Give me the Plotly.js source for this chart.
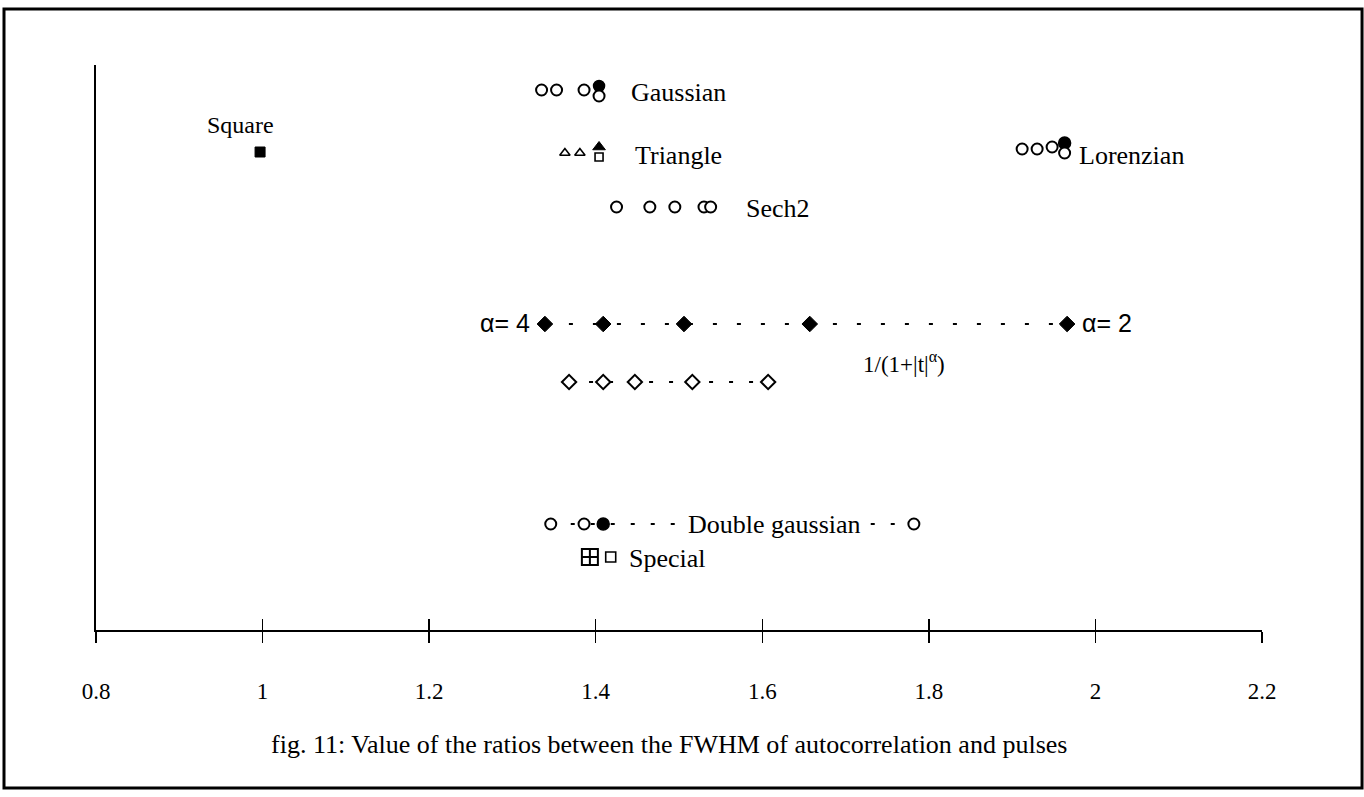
<!DOCTYPE html>
<html>
<head>
<meta charset="utf-8">
<script src="https://cdn.plot.ly/plotly-3.0.1.min.js"></script>
<style>html,body{margin:0;padding:0;background:#fff;}#chart{width:1364px;height:797px;}</style>
</head>
<body>
<div id="chart"></div>
<script>
// ---- data (ratio values) ----
var tickVals = [0.8, 1, 1.2, 1.4, 1.6, 1.8, 2, 2.2];
var tickText = ["0.8", "1", "1.2", "1.4", "1.6", "1.8", "2", "2.2"];

var gaussOpenX = [1.335, 1.353, 1.386, 1.404];
var gaussOpenY = [54.0, 54.0, 54.0, 53.4];
var gaussFillX = [1.404];
var gaussFillY = [54.4];

var squareX = [0.997];
var squareY = [47.8];

var triOpenX = [1.363, 1.381];
var triOpenY = [47.7, 47.7];
var triFillX = [1.404];
var triFillY = [48.3];
var triSqX = [1.404];
var triSqY = [47.3];

var lorOpenX = [1.912, 1.930, 1.948, 1.963];
var lorOpenY = [48.1, 48.1, 48.3, 47.7];
var lorFillX = [1.963];
var lorFillY = [48.7];

var sechX = [1.425, 1.465, 1.495, 1.530, 1.538];
var sechY = [42.3, 42.3, 42.3, 42.3, 42.3];

var alphaX = [1.339, 1.409, 1.506, 1.657, 1.966];
var alphaY = [30.6, 30.6, 30.6, 30.6, 30.6];

var diamOpenX = [1.368, 1.409, 1.447, 1.516, 1.607];
var diamOpenY = [24.8, 24.8, 24.8, 24.8, 24.8];

var dgOpenX = [1.346, 1.386, 1.782];
var dgOpenY = [10.6, 10.6, 10.6];
var dgFillX = [1.409];
var dgFillY = [10.6];
var dgLineX = [1.346, 1.782];
var dgLineY = [10.6, 10.6];

var specCrossX = [1.393];
var specCrossY = [7.3];
var specSqX = [1.418];
var specSqY = [7.3];

var serif = "Liberation Serif, Times New Roman, serif";
var sans = "Liberation Sans, Arial, sans-serif";

function pts(x, y, symbol, size, fill, lw) {
  return {x: x, y: y, type: "scatter", mode: "markers", showlegend: false, hoverinfo: "x",
    marker: {symbol: symbol, size: size, color: fill, line: {color: "#000", width: lw}}};
}

var traces = [
  {x: alphaX, y: alphaY, type: "scatter", mode: "lines", showlegend: false, hoverinfo: "skip",
   line: {color: "#000", width: 2, dash: "4px,20px"}},
  {x: diamOpenX, y: diamOpenY, type: "scatter", mode: "lines", showlegend: false, hoverinfo: "skip",
   line: {color: "#000", width: 2, dash: "4px,16px"}},
  {x: dgLineX, y: dgLineY, type: "scatter", mode: "lines", showlegend: false, hoverinfo: "skip",
   line: {color: "#000", width: 2, dash: "4px,16px"}},
  pts(gaussFillX, gaussFillY, "circle", 11, "#000", 1.5),
  pts(gaussOpenX, gaussOpenY, "circle", 11, "#fff", 2),
  pts(squareX, squareY, "square", 10, "#000", 1),
  pts(triOpenX, triOpenY, "triangle-up", 9, "#fff", 1.6),
  pts(triSqX, triSqY, "square", 8, "#fff", 1.6),
  pts(triFillX, triFillY, "triangle-up", 11, "#000", 1),
  pts(lorFillX, lorFillY, "circle", 12, "#000", 1.5),
  pts(lorOpenX, lorOpenY, "circle", 11, "#fff", 2),
  pts(sechX, sechY, "circle", 11, "#fff", 2),
  pts(alphaX, alphaY, "diamond", 12, "#000", 1),
  pts(diamOpenX, diamOpenY, "diamond", 11, "#fff", 2),
  pts(dgOpenX, dgOpenY, "circle", 11, "#fff", 2),
  pts(dgFillX, dgFillY, "circle", 12, "#000", 1.5),
  pts(specCrossX, specCrossY, "square-cross-open", 16, "#000", 2),
  pts(specSqX, specSqY, "square", 10, "#fff", 1.6)
];

var labFont = {family: serif, size: 26, color: "#000"};
function lab(x, y, text, anchor, font) {
  return {x: x, y: y, xref: "x", yref: "y", text: text, showarrow: false,
    xanchor: anchor || "left", yanchor: "middle", font: font || labFont};
}

var annotations = [
  lab(1.440, 53.8, "Gaussian"),
  lab(0.974, 50.5, "Square", "center", {family: serif, size: 24, color: "#000"}),
  lab(1.445, 47.5, "Triangle"),
  lab(1.978, 47.5, "Lorenzian"),
  lab(1.578, 42.2, "Sech2"),
  lab(1.324, 30.7, "α= 4", "right", {family: sans, size: 25, color: "#000"}),
  lab(1.982, 30.7, "α= 2", "left", {family: sans, size: 25, color: "#000"}),
  lab(1.718, 26.8, "1/(1+|t|<sup>α</sup>)", "left", {family: serif, size: 23, color: "#000"}),
  {x: 1.615, y: 10.6, xref: "x", yref: "y", text: "Double gaussian", showarrow: false,
   xanchor: "center", yanchor: "middle", bgcolor: "#fff", font: labFont},
  lab(1.438, 7.2, "Special"),
  {x: 0.4914, y: -0.2035, xref: "paper", yref: "paper", text: "fig. 11: Value of the ratios between the FWHM of autocorrelation and pulses",
   showarrow: false, xanchor: "center", yanchor: "middle", font: {family: serif, size: 26, color: "#000"}}
];

var layout = {
  width: 1364, height: 797,
  margin: {l: 96, r: 102, t: 65, b: 167, pad: 0},
  paper_bgcolor: "#fff", plot_bgcolor: "#fff",
  showlegend: false,
  xaxis: {range: [0.8, 2.2], tickvals: tickVals, ticktext: tickText, showgrid: false, zeroline: false,
    showline: true, linecolor: "#000", linewidth: 2, ticks: "outside", ticklen: 11, tickwidth: 1.5, tickcolor: "#000",
    ticklabelstandoff: 28, tickfont: {family: serif, size: 23, color: "#000"}, fixedrange: true},
  xaxis2: {range: [0.8, 2.2], overlaying: "x", matches: "x", tickvals: tickVals, ticktext: tickText, showticklabels: false, showgrid: false,
    zeroline: false, ticks: "inside", ticklen: 11, tickwidth: 1.5, tickcolor: "#000", side: "bottom"},
  yaxis: {range: [0, 56.5], showgrid: false, zeroline: false, showticklabels: false, ticks: "",
    showline: true, linecolor: "#000", linewidth: 2, fixedrange: true},
  annotations: annotations,
  shapes: [{type: "rect", xref: "paper", yref: "paper", x0: -0.0789, x1: 1.0858, y0: -0.2796, y1: 1.0991,
    line: {color: "#000", width: 3}, fillcolor: "rgba(0,0,0,0)"}]
};

traces.push({x: [0.8], y: [0], xaxis: "x2", type: "scatter", mode: "markers", marker: {opacity: 0}, hoverinfo: "skip", showlegend: false});

Plotly.newPlot("chart", traces, layout, {displayModeBar: false, staticPlot: true});
</script>
</body>
</html>
